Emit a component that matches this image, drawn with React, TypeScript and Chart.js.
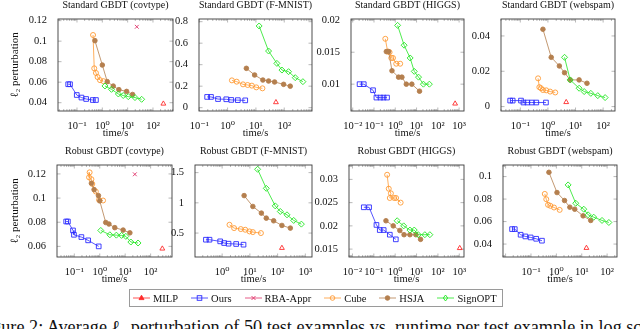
import React, { useEffect, useRef } from 'react';
import { Chart, registerables } from 'chart.js';

Chart.register(...registerables);

type P = [number, number];

// ---------- Standard GBDT (covtype)
const stdCovMILP: P[] = [[257, 0.039]];
const stdCovOurs: P[] = [[0.045, 0.058], [0.053, 0.058], [0.098, 0.0475], [0.15, 0.045], [0.23, 0.0436], [0.42, 0.0426], [0.56, 0.0426]];
const stdCovRBA: P[] = [[23, 0.114]];
const stdCovCube: P[] = [[0.43, 0.106], [0.48, 0.0735], [0.56, 0.069], [0.65, 0.065], [0.81, 0.062], [1.1, 0.061]];
const stdCovHSJA: P[] = [[0.51, 0.1005], [1.0, 0.0767], [1.57, 0.0605], [2.7, 0.0562], [4.5, 0.0527], [9.1, 0.051], [15.7, 0.048]];
const stdCovSignOPT: P[] = [[1.27, 0.0563], [2.3, 0.053], [4.3, 0.0485], [6.7, 0.047], [10.6, 0.0459], [19.5, 0.045], [35.7, 0.0433]];
const stdCovXTicks = [0.1, 1, 10, 100];
const stdCovYTicks = [0.04, 0.06, 0.08, 0.1, 0.12];

// ---------- Standard GBDT (F-MNIST)
const stdFmMILP: P[] = [[51, 0.05]];
const stdFmOurs: P[] = [[0.19, 0.1], [0.26, 0.1], [0.46, 0.08], [0.9, 0.078], [1.35, 0.072], [2.3, 0.07], [4.2, 0.068]];
const stdFmRBA: P[] = [];
const stdFmCube: P[] = [[1.42, 0.254], [2.1, 0.242], [3.5, 0.217], [5.1, 0.211], [7.2, 0.205], [10.3, 0.189], [17, 0.18]];
const stdFmHSJA: P[] = [[4.6, 0.366], [9, 0.304], [17.6, 0.257], [28, 0.248], [45.6, 0.239], [95, 0.217], [163, 0.2]];
const stdFmSignOPT: P[] = [[13, 0.76], [28, 0.527], [55, 0.412], [83, 0.35], [142, 0.335], [245, 0.279], [456, 0.242]];
const stdFmXTicks = [0.1, 1, 10, 100];
const stdFmYTicks = [0, 0.2, 0.4, 0.6, 0.8];

// ---------- Standard GBDT (HIGGS)
const stdHiMILP: P[] = [[650, 0.00695]];
const stdHiOurs: P[] = [[0.021, 0.01], [0.033, 0.01], [0.09, 0.00905], [0.13, 0.0079], [0.2, 0.0079], [0.28, 0.0079], [0.41, 0.0079]];
const stdHiRBA: P[] = [];
const stdHiCube: P[] = [[0.34, 0.0171], [0.44, 0.0151], [0.54, 0.015], [0.65, 0.0141], [0.78, 0.0141], [1.11, 0.0132], [1.7, 0.0132]];
const stdHiHSJA: P[] = [[0.38, 0.0151], [0.49, 0.0151], [0.7, 0.0121], [1.43, 0.0111], [2.05, 0.0111], [3.3, 0.01], [6.0, 0.01], [13.8, 0.0089]];
const stdHiSignOPT: P[] = [[1.29, 0.0192], [2.6, 0.0161], [5.0, 0.0141], [7.8, 0.012], [12.4, 0.0111], [21, 0.01], [40, 0.01]];
const stdHiXTicks = [0.01, 0.1, 1, 10, 100, 1000];
const stdHiYTicks = [0.01, 0.015, 0.02];

// ---------- Standard GBDT (webspam)
const stdWebMILP: P[] = [[4.6, 0.0025]];
const stdWebOurs: P[] = [[0.043, 0.0034], [0.053, 0.0034], [0.106, 0.0034], [0.13, 0.0023], [0.18, 0.0023], [0.26, 0.0023], [0.38, 0.0023], [0.85, 0.0023]];
const stdWebRBA: P[] = [];
const stdWebCube: P[] = [[0.44, 0.016], [0.49, 0.011], [0.56, 0.0104], [0.66, 0.0094], [0.87, 0.0092], [1.2, 0.0085], [1.84, 0.008]];
const stdWebHSJA: P[] = [[0.66, 0.0438], [1.32, 0.0279], [2.6, 0.023], [4.0, 0.0192], [6.4, 0.0151], [13.5, 0.0151], [26, 0.0132]];
const stdWebSignOPT: P[] = [[4.0, 0.0279], [6.4, 0.0151], [13.5, 0.0104], [20.6, 0.0085], [35.8, 0.0075], [64, 0.0062], [118, 0.0051]];
const stdWebXTicks = [0.1, 1, 10, 100];
const stdWebYTicks = [0, 0.02, 0.04];

// ---------- Robust GBDT (covtype)
const robCovMILP: P[] = [[288, 0.0581]];
const robCovOurs: P[] = [[0.048, 0.0806], [0.056, 0.0806], [0.089, 0.0732], [0.097, 0.0696], [0.19, 0.0677], [0.35, 0.065], [0.91, 0.06]];
const robCovRBA: P[] = [[24, 0.1197]];
const robCovCube: P[] = [[0.4, 0.1213], [0.38, 0.1172], [0.47, 0.1156], [0.51, 0.1117], [0.7, 0.1054], [0.94, 0.0985], [1.35, 0.098]];
const robCovHSJA: P[] = [[0.47, 0.1123], [0.6, 0.107], [0.89, 0.102], [1.0, 0.0977], [1.72, 0.0798], [2.3, 0.0785], [3.9, 0.0755], [8.3, 0.0735], [15.3, 0.0712]];
const robCovSignOPT: P[] = [[1.1, 0.0732], [2.5, 0.0696], [4.5, 0.0693], [7.2, 0.0691], [10.6, 0.0683], [16.7, 0.0636], [32, 0.0628]];
const robCovXTicks = [0.1, 1, 10, 100];
const robCovYTicks = [0.06, 0.08, 0.1, 0.12];

// ---------- Robust GBDT (F-MNIST)
const robFmMILP: P[] = [[143, 0.253]];
const robFmOurs: P[] = [[0.26, 0.39], [0.35, 0.39], [0.85, 0.363], [1.18, 0.335], [1.7, 0.324], [3.2, 0.319], [5.9, 0.308]];
const robFmRBA: P[] = [];
const robFmCube: P[] = [[1.84, 0.637], [2.7, 0.582], [4.7, 0.566], [6.8, 0.555], [9.7, 0.527], [12.8, 0.516], [25, 0.5]];
const robFmHSJA: P[] = [[6.2, 1.12], [12.8, 0.94], [26, 0.83], [39, 0.747], [72, 0.703], [143, 0.626], [288, 0.582]];
const robFmSignOPT: P[] = [[19, 1.555], [39, 1.24], [82, 0.95], [125, 0.857], [218, 0.802], [380, 0.709], [720, 0.648]];
const robFmXTicks = [1, 10, 100, 1000];
const robFmYTicks = [0.5, 1, 1.5];

// ---------- Robust GBDT (HIGGS)
const robHiMILP: P[] = [[1050, 0.0152]];
const robHiOurs: P[] = [[0.034, 0.024], [0.06, 0.024], [0.133, 0.0202], [0.19, 0.0191], [0.29, 0.0191], [0.56, 0.0181], [1.07, 0.0171]];
const robHiRBA: P[] = [];
const robHiCube: P[] = [[0.42, 0.031], [0.5, 0.028], [0.63, 0.027], [0.56, 0.026], [0.9, 0.026], [1.1, 0.026], [1.8, 0.025]];
const robHiHSJA: P[] = [[0.37, 0.0211], [0.81, 0.02], [1.65, 0.019], [2.6, 0.0181], [4.9, 0.0181], [9.3, 0.0181], [15.4, 0.0171]];
const robHiSignOPT: P[] = [[1.24, 0.0211], [2.5, 0.02], [4.9, 0.0191], [7.8, 0.0191], [12, 0.0181], [24.5, 0.0181], [42, 0.0181]];
const robHiXTicks = [0.01, 0.1, 1, 10, 100, 1000];
const robHiYTicks = [0.015, 0.02, 0.025, 0.03];

// ---------- Robust GBDT (webspam)
const robWebMILP: P[] = [[15.3, 0.0365]];
const robWebOurs: P[] = [[0.018, 0.0533], [0.023, 0.0533], [0.039, 0.0483], [0.06, 0.0468], [0.097, 0.0459], [0.16, 0.0447], [0.27, 0.043]];
const robWebRBA: P[] = [];
const robWebCube: P[] = [[0.35, 0.0846], [0.4, 0.0799], [0.47, 0.0749], [0.58, 0.074], [0.81, 0.0725], [1.35, 0.0704]];
const robWebHSJA: P[] = [[0.51, 0.1038], [1.06, 0.0858], [2.1, 0.0787], [3.4, 0.0728], [5.3, 0.071], [11.3, 0.0651], [22.6, 0.061]];
const robWebSignOPT: P[] = [[2.9, 0.0926], [5.8, 0.0763], [12, 0.071], [17.8, 0.066], [29.6, 0.0639], [63, 0.061], [117, 0.0592]];
const robWebXTicks = [0.1, 1, 10, 100];
const robWebYTicks = [0.04, 0.06, 0.08, 0.1];

const SERIES_NAMES = ['MILP', 'Ours', 'RBA-Appr', 'Cube', 'HSJA', 'SignOPT'];
const Y_TITLE = 'ℓ₂ perturbation';
const X_TITLE = 'time/s';

// ---------- styles / layout
const FONT = "'Liberation Serif', 'DejaVu Serif', serif";
const INK = '#111111';

const STYLES = [
  { color: '#ff2a2a', style: 'triangle', r: 2.8, filled: false },
  { color: '#2b2bff', style: 'rect', r: 3.3, filled: false },
  { color: '#e0336a', style: 'crossRot', r: 2.7, filled: false },
  { color: '#ff9a33', style: 'circle', r: 2.5, filled: false },
  { color: '#b47f4e', style: 'circle', r: 2.3, filled: true },
  { color: '#22e622', style: 'rectRot', r: 3.0, filled: false },
];

type Panel = {
  title: string;
  series: P[][];
  x: [number, number];
  y: [number, number];
  xTicks: number[];
  yTicks: number[];
  box: [number, number, number, number];
  yTitle: boolean;
};

const PANELS: Panel[] = [
  { title: 'Standard GBDT (covtype)', series: [stdCovMILP, stdCovOurs, stdCovRBA, stdCovCube, stdCovHSJA, stdCovSignOPT], x: [0.0178, 617], y: [0.0319, 0.1216], xTicks: stdCovXTicks, yTicks: stdCovYTicks, box: [58, 19, 173, 111], yTitle: true },
  { title: 'Standard GBDT (F-MNIST)', series: [stdFmMILP, stdFmOurs, stdFmRBA, stdFmCube, stdFmHSJA, stdFmSignOPT], x: [0.098, 955], y: [-0.031, 0.825], xTicks: stdFmXTicks, yTicks: stdFmYTicks, box: [199, 19, 312, 111], yTitle: false },
  { title: 'Standard GBDT (HIGGS)', series: [stdHiMILP, stdHiOurs, stdHiRBA, stdHiCube, stdHiHSJA, stdHiSignOPT], x: [0.0083, 1700], y: [0.0058, 0.0202], xTicks: stdHiXTicks, yTicks: stdHiYTicks, box: [351, 19, 464, 111], yTitle: false },
  { title: 'Standard GBDT (webspam)', series: [stdWebMILP, stdWebOurs, stdWebRBA, stdWebCube, stdWebHSJA, stdWebSignOPT], x: [0.02, 269], y: [-0.0025, 0.0496], xTicks: stdWebXTicks, yTicks: stdWebYTicks, box: [501, 19, 615, 111], yTitle: false },
  { title: 'Robust GBDT (covtype)', series: [robCovMILP, robCovOurs, robCovRBA, robCovCube, robCovHSJA, robCovSignOPT], x: [0.0209, 692], y: [0.0512, 0.1274], xTicks: robCovXTicks, yTicks: robCovYTicks, box: [57, 165, 172, 257], yTitle: true },
  { title: 'Robust GBDT (F-MNIST)', series: [robFmMILP, robFmOurs, robFmRBA, robFmCube, robFmHSJA, robFmSignOPT], x: [0.105, 1738], y: [0.104, 1.626], xTicks: robFmXTicks, yTicks: robFmYTicks, box: [195, 165, 312, 257], yTitle: false },
  { title: 'Robust GBDT (HIGGS)', series: [robHiMILP, robHiOurs, robHiRBA, robHiCube, robHiHSJA, robHiSignOPT], x: [0.0069, 1660], y: [0.0133, 0.0331], xTicks: robHiXTicks, yTicks: robHiYTicks, box: [349, 165, 464, 257], yTitle: false },
  { title: 'Robust GBDT (webspam)', series: [robWebMILP, robWebOurs, robWebRBA, robWebCube, robWebHSJA, robWebSignOPT], x: [0.0079, 245], y: [0.0285, 0.1103], xTicks: robWebXTicks, yTicks: robWebYTicks, box: [503, 165, 617, 257], yTitle: false },
];

const SUP: Record<string, string> = { '-': '⁻', '0': '⁰', '1': '¹', '2': '²', '3': '³', '4': '⁴', '5': '⁵', '6': '⁶', '7': '⁷', '8': '⁸', '9': '⁹' };
function powLabel(v: number): string {
  const e = Math.round(Math.log10(v));
  return '10' + String(e).split('').map((c) => SUP[c] || c).join('');
}

function geom(p: Panel) {
  const [pl, pt, pr, pb] = p.box;
  const left = p.yTitle ? 0 : pl - 40;
  const top = pt - 19;
  const width = pr + 14 - left;
  const height = pb + 30 - top;
  return { left, top, width, height, yw: pl - left };
}

const framePlugin = {
  id: 'pgfFrame',
  beforeDatasetsDraw(chart: any) {
    const { ctx, chartArea: a } = chart;
    const xs = chart.scales.x;
    const ys = chart.scales.y;
    ctx.save();
    ctx.strokeStyle = '#8a8a8a';
    ctx.lineWidth = 0.6;
    ctx.beginPath();
    for (const t of ys.ticks) {
      const py = ys.getPixelForValue(t.value);
      ctx.moveTo(a.left, py);
      ctx.lineTo(a.left + 3.5, py);
      ctx.moveTo(a.right, py);
      ctx.lineTo(a.right - 3.5, py);
    }
    const lo = Math.floor(Math.log10(xs.min));
    const hi = Math.ceil(Math.log10(xs.max));
    for (let e = lo; e <= hi; e++) {
      for (let m = 1; m < 10; m++) {
        const v = m * Math.pow(10, e);
        if (v < xs.min || v > xs.max) continue;
        const len = m === 1 ? 3.5 : 2;
        const px = xs.getPixelForValue(v);
        ctx.moveTo(px, a.bottom);
        ctx.lineTo(px, a.bottom - len);
        ctx.moveTo(px, a.top);
        ctx.lineTo(px, a.top + len);
      }
    }
    ctx.stroke();
    ctx.strokeStyle = '#3a3a3a';
    ctx.lineWidth = 0.9;
    ctx.strokeRect(a.left, a.top, a.right - a.left, a.bottom - a.top);
    ctx.restore();
  },
};

function buildChart(canvas: HTMLCanvasElement, p: Panel) {
  const g = geom(p);
  const tickFont = { family: FONT, size: 10.5 };
  const datasets = p.series
    .map((pts, i) => ({ pts, i }))
    .filter((d) => d.pts.length > 0)
    .map(({ pts, i }) => {
      const s = STYLES[i];
      return {
        label: SERIES_NAMES[i],
        data: pts.map(([x, y]) => ({ x, y })),
        showLine: true,
        borderColor: s.color,
        borderWidth: 0.8,
        pointStyle: s.style,
        pointRadius: s.r,
        pointBorderWidth: 0.9,
        pointBorderColor: s.color,
        pointBackgroundColor: s.filled ? s.color : 'rgba(255,255,255,0)',
        clip: false,
        order: 10 - i,
      };
    });
  return new Chart(canvas, {
    type: 'scatter',
    data: { datasets } as any,
    options: {
      responsive: false,
      animation: false,
      devicePixelRatio: 1,
      layout: { padding: { left: 0, top: 0, right: 14, bottom: 0 } },
      plugins: {
        legend: { display: false },
        tooltip: { enabled: false },
        title: {
          display: true,
          text: p.title,
          fullSize: false,
          color: INK,
          font: { family: FONT, size: 10, weight: 'normal', lineHeight: 1 },
          padding: { top: 0, bottom: 9 },
        },
      },
      scales: {
        x: {
          type: 'logarithmic',
          min: p.x[0],
          max: p.x[1],
          bounds: 'data',
          grid: { display: false },
          border: { display: false },
          afterBuildTicks: (s: any) => {
            s.ticks = p.xTicks.map((v) => ({ value: v }));
          },
          afterFit: (s: any) => {
            s.height = 30;
          },
          ticks: {
            autoSkip: false,
            maxRotation: 0,
            padding: 1,
            color: INK,
            font: tickFont,
            callback: (v: any) => powLabel(Number(v)),
          },
          title: {
            display: true,
            text: X_TITLE,
            color: INK,
            font: tickFont,
            padding: { top: 0, bottom: 1.5 },
          },
        },
        y: {
          type: 'linear',
          min: p.y[0],
          max: p.y[1],
          bounds: 'data',
          grid: { display: false },
          border: { display: false },
          afterBuildTicks: (s: any) => {
            s.ticks = p.yTicks.map((v) => ({ value: v }));
          },
          afterFit: (s: any) => {
            s.width = g.yw;
          },
          ticks: {
            padding: 3,
            color: INK,
            font: tickFont,
            callback: (v: any) => String(Number(v)),
          },
          title: {
            display: p.yTitle,
            text: Y_TITLE,
            color: INK,
            font: { family: FONT, size: 11 },
            padding: { top: 8.4, bottom: 0 },
          },
        },
      },
    } as any,
    plugins: [framePlugin],
  });
}

function LegendMarker({ idx }: { idx: number }) {
  const s = STYLES[idx];
  const cx = 8.5;
  const cy = 5;
  let m: React.ReactNode = null;
  const common = { stroke: s.color, strokeWidth: 0.9 };
  if (s.style === 'triangle') {
    m = <polygon points={`${cx},${cy - 2.8} ${cx + 2.5},${cy + 1.6} ${cx - 2.5},${cy + 1.6}`} fill={s.color} {...common} />;
  } else if (s.style === 'rect') {
    m = <rect x={cx - 2.3} y={cy - 2.3} width={4.6} height={4.6} fill="none" {...common} />;
  } else if (s.style === 'crossRot') {
    m = (
      <g {...common}>
        <line x1={cx - 2} y1={cy - 2} x2={cx + 2} y2={cy + 2} />
        <line x1={cx - 2} y1={cy + 2} x2={cx + 2} y2={cy - 2} />
      </g>
    );
  } else if (s.style === 'circle') {
    m = <circle cx={cx} cy={cy} r={2.3} fill={s.filled ? s.color : 'none'} {...common} />;
  } else if (s.style === 'rectRot') {
    m = <polygon points={`${cx},${cy - 3} ${cx + 2.2},${cy} ${cx},${cy + 3} ${cx - 2.2},${cy}`} fill="none" {...common} />;
  }
  return (
    <svg width={17} height={10} style={{ display: 'block' }}>
      <line x1={0} y1={cy} x2={17} y2={cy} stroke={s.color} strokeWidth={0.8} />
      {m}
    </svg>
  );
}

export default function App() {
  const refs = useRef<(HTMLCanvasElement | null)[]>([]);

  useEffect(() => {
    const charts = PANELS.map((p, i) => buildChart(refs.current[i] as HTMLCanvasElement, p));
    return () => charts.forEach((c) => c.destroy());
  }, []);

  return (
    <div style={{ position: 'fixed', left: 0, top: 0, width: 640, height: 329, overflow: 'hidden', background: '#fff' }}>
      {PANELS.map((p, i) => {
        const g = geom(p);
        return (
          <canvas
            key={i}
            ref={(el) => {
              refs.current[i] = el;
            }}
            width={g.width}
            height={g.height}
            style={{ position: 'absolute', left: g.left, top: g.top, width: g.width, height: g.height }}
          />
        );
      })}
      <div
        style={{
          position: 'absolute',
          left: 129,
          top: 289,
          height: 16,
          border: '1px solid #9a9a9a',
          display: 'flex',
          alignItems: 'center',
          gap: 13,
          padding: '0 5px 0 3px',
          fontFamily: FONT,
          fontSize: 10.5,
          color: INK,
          whiteSpace: 'nowrap',
          background: '#fff',
        }}
      >
        {SERIES_NAMES.map((n, i) => (
          <div key={n} style={{ display: 'flex', alignItems: 'center', gap: 3 }}>
            <LegendMarker idx={i} />
            <span>{n}</span>
          </div>
        ))}
      </div>
      <div
        style={{
          position: 'absolute',
          left: -23,
          top: 318,
          fontFamily: FONT,
          fontSize: 18.2,
          lineHeight: '18px',
          whiteSpace: 'nowrap',
          color: INK,
        }}
      >
        Figure 2: Average ℓ<span style={{ fontSize: 12, position: 'relative', top: 4 }}>2</span> perturbation of 50 test examples vs. runtime per test example in log scale
      </div>
    </div>
  );
}
